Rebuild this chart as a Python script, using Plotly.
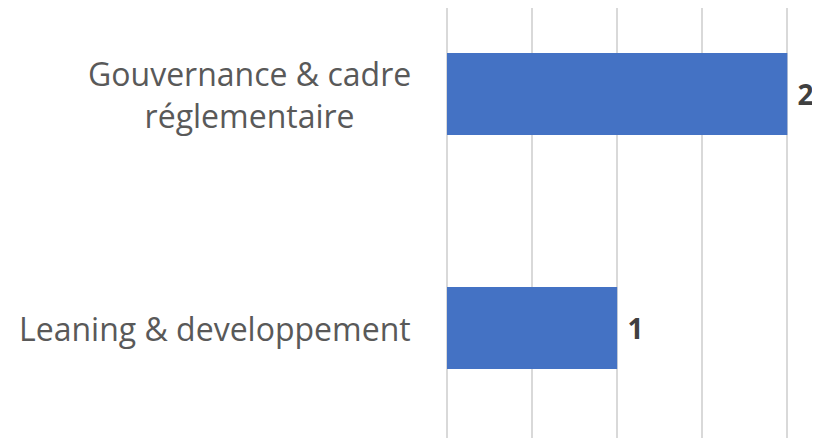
import plotly.graph_objects as go

categories = ["Leaning & developpement", "Gouvernance & cadre réglementaire"]
label_text = ["Leaning & developpement", "Gouvernance & cadre<br>réglementaire"]
values = [1, 2]

fig = go.Figure()
fig.add_trace(go.Bar(
    y=categories, x=values, orientation="h",
    marker=dict(color="#4472C4", line=dict(width=0)),
    width=0.35,
    text=values, texttemplate=" %{x}", textposition="outside",
    textfont=dict(family="Open Sans", size=28, color="#404040", weight="bold"),
    cliponaxis=False,
))

for c, t in zip(categories, label_text):
    fig.add_annotation(
        x=0, xref="paper", y=c, yref="y", text=t, showarrow=False,
        xanchor="right", yanchor="middle", align="center", xshift=-34,
        font=dict(family="Open Sans", size=32, color="#595959"),
    )

fig.update_layout(
    width=812, height=430,
    margin=dict(l=439, r=0, t=0, b=0),
    plot_bgcolor="white", paper_bgcolor="white",
    showlegend=False,
    xaxis=dict(range=[0, 2.192], dtick=0.5, tick0=0, showticklabels=False,
               showgrid=True, gridcolor="#d9d9d9", gridwidth=1.5,
               zeroline=True, zerolinecolor="#d9d9d9", zerolinewidth=1.5),
    yaxis=dict(range=[-0.470, 1.3675], showticklabels=False, showgrid=False,
               zeroline=False),
)

fig.write_html("out.html")
